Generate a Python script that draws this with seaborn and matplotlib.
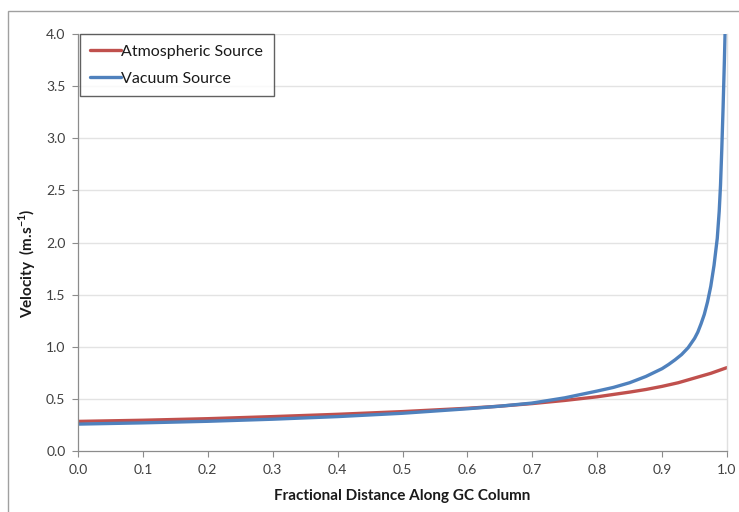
import numpy as np
import pandas as pd
import matplotlib
matplotlib.use("Agg")
import matplotlib.pyplot as plt
from matplotlib.patches import Rectangle
import seaborn as sns

# --------------------------
# DATA
# --------------------------
atm_x = [0.0, 0.1, 0.2, 0.3, 0.4, 0.5, 0.6, 0.65, 0.7, 0.75, 0.8, 0.85,
         0.875, 0.9, 0.925, 0.95, 0.975, 1.0]
atm_v = [0.284, 0.295, 0.31, 0.33, 0.352, 0.378, 0.41, 0.43, 0.455, 0.485,
         0.52, 0.565, 0.59, 0.62, 0.655, 0.70, 0.745, 0.80]

vac_x = [0.0, 0.1, 0.2, 0.3, 0.4, 0.5, 0.6, 0.65, 0.7, 0.75, 0.8, 0.825,
         0.85, 0.875, 0.89, 0.9, 0.91, 0.92, 0.93, 0.94, 0.95, 0.955, 0.96,
         0.965, 0.97, 0.975, 0.98, 0.985, 0.988, 0.99, 0.992, 0.994, 0.996,
         0.997]
vac_v = [0.258, 0.27, 0.285, 0.305, 0.33, 0.362, 0.405, 0.43, 0.46, 0.51,
         0.575, 0.61, 0.655, 0.715, 0.76, 0.79, 0.83, 0.875, 0.925, 0.99,
         1.08, 1.14, 1.22, 1.31, 1.43, 1.58, 1.78, 2.04, 2.3, 2.55, 2.9, 3.3,
         3.75, 4.0]

series_names = ["Atmospheric Source", "Vacuum Source"]
series_colors = ["#C0504D", "#4F81BD"]

x_ticks = [0.0, 0.1, 0.2, 0.3, 0.4, 0.5, 0.6, 0.7, 0.8, 0.9, 1.0]
y_ticks = [0.0, 0.5, 1.0, 1.5, 2.0, 2.5, 3.0, 3.5, 4.0]

df = pd.concat([
    pd.DataFrame({"x": atm_x, "v": atm_v, "src": series_names[0]}),
    pd.DataFrame({"x": vac_x, "v": vac_v, "src": series_names[1]}),
])

# --------------------------
# STYLE
# --------------------------
sns.set_theme(style="white")
plt.rcParams["font.family"] = ["Lato", "DejaVu Sans"]
plt.rcParams["mathtext.fontset"] = "custom"
plt.rcParams["mathtext.rm"] = "Lato"
plt.rcParams["mathtext.bf"] = "Lato:bold"

W, H = 739, 512
fig = plt.figure(figsize=(W / 100, H / 100), dpi=100)
ax = fig.add_axes([78 / W, 1 - 451 / H, (727 - 78) / W, (451 - 34) / H])

sns.lineplot(data=df, x="x", y="v", hue="src", palette=series_colors,
             hue_order=series_names, linewidth=2.4, sort=False, ax=ax)

ax.set_xlim(0, 1)
ax.set_ylim(0, 4)
ax.set_xticks(x_ticks)
ax.set_yticks(y_ticks)
ax.set_xticklabels([f"{t:.1f}" for t in x_ticks])
ax.set_yticklabels([f"{t:.1f}" for t in y_ticks])
ax.tick_params(axis="both", labelsize=10, labelcolor="#404040", color="#8c8c8c",
               length=4, width=0.8, direction="out", pad=5)
ax.tick_params(axis="x", bottom=True)
ax.tick_params(axis="y", left=True)

for y in y_ticks[1:]:
    ax.axhline(y, color="#e3e3e3", lw=1, zorder=0)

for side in ["left", "bottom"]:
    ax.spines[side].set_color("#8c8c8c")
    ax.spines[side].set_linewidth(0.9)
ax.spines["top"].set_visible(False)
ax.spines["right"].set_color("#e0e0e0")
ax.spines["right"].set_linewidth(1)

ax.set_xlabel("Fractional Distance Along GC Column", fontsize=11,
              fontweight="bold", color="#1a1a1a", labelpad=10)
ax.set_ylabel(r"Velocity  (m.s$^{\mathbf{-1}}$)", fontsize=11,
              fontweight="bold", color="#1a1a1a")
# label sits a little below the axis centre in the source
ax.yaxis.set_label_coords(-0.062, 0.451)

leg = ax.legend(loc="upper left", bbox_to_anchor=(0.003, 1.0), borderaxespad=0,
                frameon=True, fancybox=False, fontsize=11.5, handlelength=1.9,
                handletextpad=0.05, labelspacing=0.8, borderpad=0.65,
                title=None)
leg.get_frame().set_edgecolor("#3a3a3a")
leg.get_frame().set_linewidth(1)
for t in leg.get_texts():
    t.set_color("#1a1a1a")

# outer chart-area border (open to the right/bottom, as in the source image)
fig.patches.append(Rectangle((8 / W, -0.2), 1.5, 1.2 - 10.5 / H, fill=False,
                             edgecolor="#a0a0a0", lw=1,
                             transform=fig.transFigure, figure=fig))

fig.savefig("out.png", dpi=100)
